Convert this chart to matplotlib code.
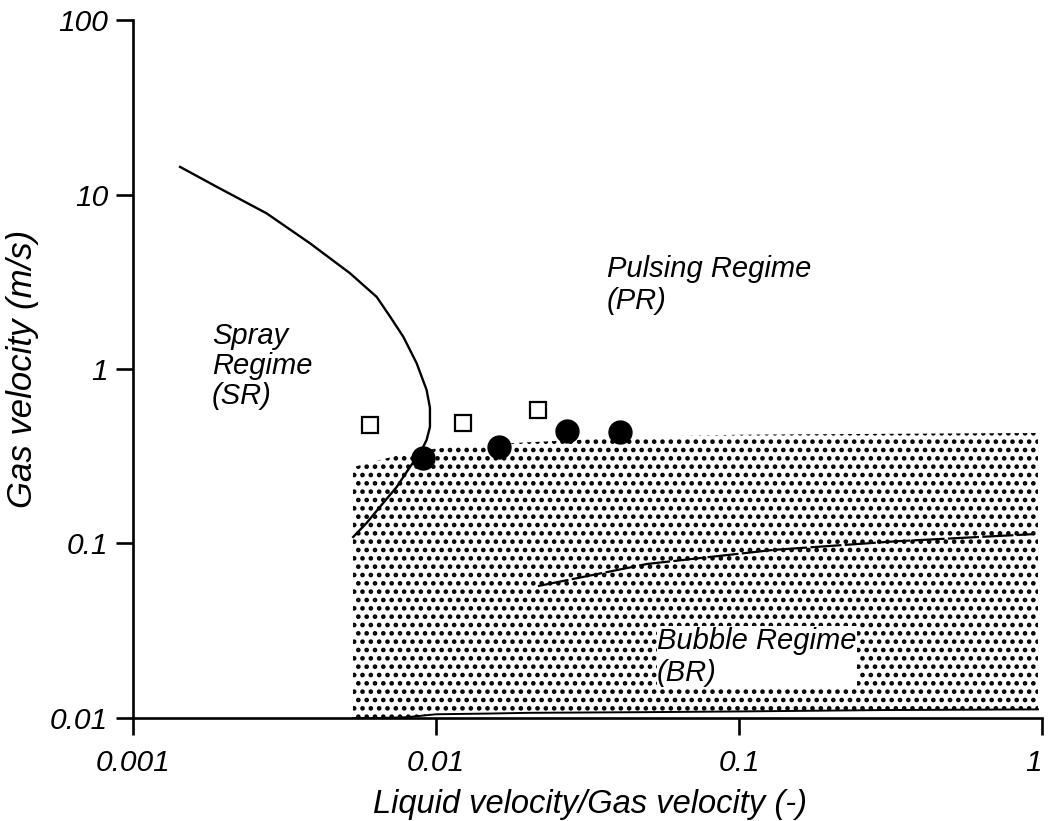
import matplotlib
matplotlib.use("Agg")
import matplotlib.pyplot as plt
from matplotlib.ticker import FixedLocator, FixedFormatter, NullLocator

plt.rcParams['font.family'] = ['Liberation Sans', 'DejaVu Sans']
plt.rcParams['font.style'] = 'italic'
plt.rcParams['hatch.linewidth'] = 2.1

# Spray-regime boundary curve (SR / PR)
spray_x = [0.00143, 0.00189, 0.00276, 0.00384, 0.00520, 0.00637, 0.00705, 0.00780,
           0.00863, 0.00931, 0.00955, 0.00955, 0.00931, 0.00886, 0.00820, 0.00742,
           0.00670, 0.00590, 0.00533]
spray_y = [14.4, 11.07, 7.80, 5.25, 3.54, 2.59, 2.00, 1.53,
           1.08, 0.759, 0.60, 0.465, 0.392, 0.330, 0.274, 0.211,
           0.171, 0.131, 0.109]

# Bubble regime shaded area (BR): top and bottom boundaries
bubble_x = [0.00532, 0.0065, 0.0080, 0.0100, 0.0150, 0.0200, 0.0500, 0.1000, 0.3000, 0.97]
bubble_top = [0.274, 0.300, 0.330, 0.350, 0.370, 0.380, 0.410, 0.420, 0.425, 0.430]
bubble_bot = [0.0100, 0.0100, 0.0101, 0.0105, 0.0106, 0.0107, 0.0108, 0.0109, 0.0111, 0.0112]

# Dashed transition line inside the bubble regime
dash_x = [0.0217, 0.0497, 0.1294, 0.332, 0.927]
dash_y = [0.057, 0.0763, 0.0918, 0.103, 0.113]

# Experimental points
square_x = [0.00606, 0.01228, 0.0217]
square_y = [0.478, 0.490, 0.582]
circle_x = [0.00906, 0.01614, 0.0271, 0.0405]
circle_y = [0.309, 0.357, 0.441, 0.435]

# Ticks
xticks = [0.001, 0.01, 0.1, 1]
xtick_labels = ['0.001', '0.01', '0.1', '1']
yticks = [0.01, 0.1, 1, 10, 100]
ytick_labels = ['0.01', '0.1', '1', '10', '100']

fig = plt.figure(figsize=(10.48, 8.21), dpi=100)
ax = fig.add_axes([0.1269, 0.1255, 0.8674, 0.8501])
ax.set_xscale('log')
ax.set_yscale('log')
ax.set_xlim(0.001, 1)
ax.set_ylim(0.01, 100)

ax.fill_between(bubble_x, bubble_bot, bubble_top, facecolor='white',
                edgecolor='black', hatch='..', linewidth=0, zorder=1)
ax.plot(bubble_x, bubble_bot, color='black', lw=1.4, zorder=3)

ax.plot(spray_x, spray_y, color='black', lw=1.7, zorder=3)
ax.plot(dash_x, dash_y, color='black', lw=1.6, dashes=(14, 1.5), zorder=3)

ax.plot(square_x, square_y, 's', ms=11.5, mfc='white', mec='black', mew=1.6, zorder=4)
ax.plot(circle_x, circle_y, 'o', ms=16.5, mfc='black', mec='black', zorder=4)

txt_bbox = dict(facecolor='white', edgecolor='none', pad=0.3)
ax.text(0.00182, 1.04, 'Spray\nRegime\n(SR)', fontsize=21, ha='left', va='center',
        linespacing=1.08)
ax.text(0.0367, 3.03, 'Pulsing Regime\n(PR)', fontsize=21, ha='left', va='center',
        linespacing=1.15)
ax.text(0.0536, 0.0224, 'Bubble Regime\n(BR)', fontsize=21, ha='left', va='center',
        linespacing=1.2, bbox=txt_bbox, zorder=2)

for s in ['top', 'right']:
    ax.spines[s].set_visible(False)
for s in ['left', 'bottom']:
    ax.spines[s].set_linewidth(1.9)

ax.xaxis.set_major_locator(FixedLocator(xticks))
ax.xaxis.set_major_formatter(FixedFormatter(xtick_labels))
ax.yaxis.set_major_locator(FixedLocator(yticks))
ax.yaxis.set_major_formatter(FixedFormatter(ytick_labels))
ax.xaxis.set_minor_locator(NullLocator())
ax.yaxis.set_minor_locator(NullLocator())
ax.tick_params(axis='both', which='major', direction='out', length=12, width=1.9,
               labelsize=21.5)
ax.tick_params(axis='x', pad=10)
ax.tick_params(axis='y', pad=6)
ax.get_xticklabels()[-1].set_horizontalalignment('right')

ax.set_xlabel('Liquid velocity/Gas velocity (-)', fontsize=23.5, va='center')
ax.xaxis.set_label_coords(0.503, -0.124)
ax.set_ylabel('Gas velocity (m/s)', fontsize=25, va='center')
ax.yaxis.set_label_coords(-0.121, 0.5)

fig.savefig('out.png', dpi=100)
